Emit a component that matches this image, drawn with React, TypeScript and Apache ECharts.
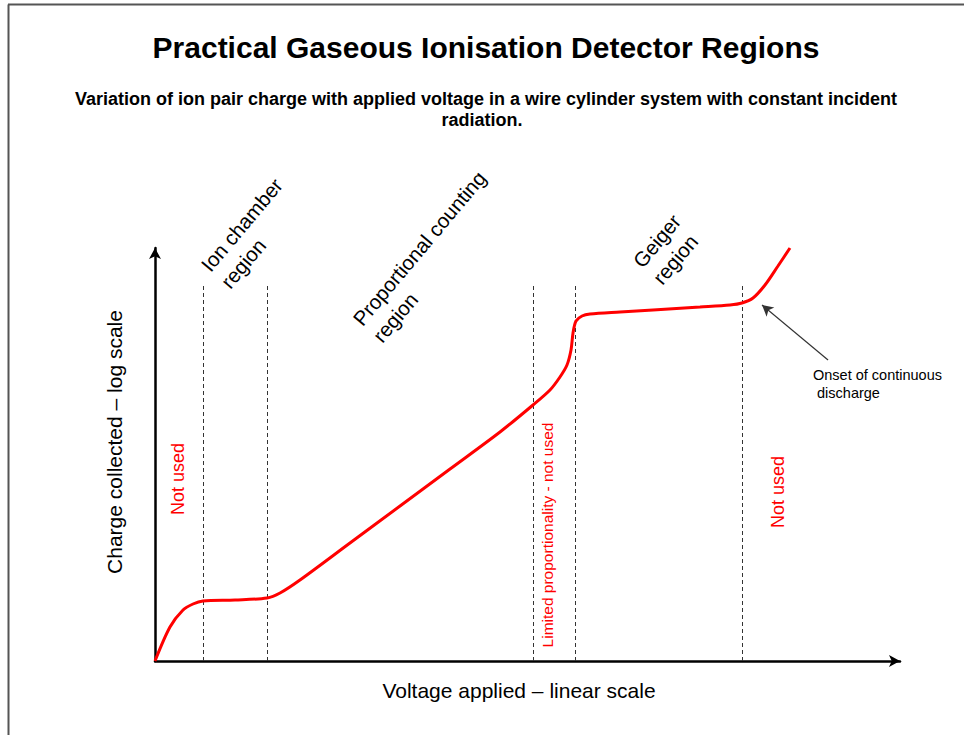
import React, { useEffect, useRef } from "react";
import * as echarts from "echarts";

// Voltage applied (linear, 0–100 arbitrary units) vs charge collected (log, 0–100 arbitrary units)
const voltage = [0, 2.01, 3.76, 5.1, 6.44, 10.74, 15.03, 16.78, 19.46, 26.17, 32.89, 39.6, 46.31, 50.74, 53.02, 54.36, 55.3, 55.84, 56.11, 56.51, 57.32, 58.39, 62.42, 66.85, 73.15, 77.18, 78.79, 80.27, 81.88, 83.62, 85.23];
const charge = [0, 8.23, 12.35, 13.8, 14.53, 14.77, 15.25, 16.46, 19.61, 28.57, 37.53, 46.49, 55.45, 61.99, 65.62, 68.77, 71.67, 75.3, 79.42, 82.32, 83.54, 84.02, 84.5, 84.99, 85.71, 86.2, 86.68, 87.89, 91.04, 95.64, 100];

// Region boundaries (voltage) and the height of the dashed boundary lines
const regionBoundaries = [6.44, 15.03, 50.74, 56.38, 78.79];
const boundaryTop = 91.3;

// Annotation arrow: from label to the onset of continuous discharge
const arrowFrom = [90.34, 72.88];
const arrowTo = [81.48, 86.2];

const titleText = "Practical Gaseous Ionisation Detector Regions";
const subtitleLines = [
  "Variation of ion pair charge with applied voltage in a wire cylinder system with constant incident",
  "radiation.",
];
const regionLabels = ["Ion chamber\nregion", "Proportional counting\nregion", "Geiger\nregion"];
const unusedLabels = ["Not used", "Limited proportionality - not used", "Not used"];
const xTitle = "Voltage applied – linear scale";
const yTitle = "Charge collected – log scale";
const onsetLabel = "Onset of continuous\n discharge";

export default function App() {
  const ref = useRef<HTMLDivElement>(null);

  useEffect(() => {
    if (!ref.current) return;
    const chart = echarts.init(ref.current, undefined, { renderer: "svg" });
    const font = "'Liberation Sans', Arial, sans-serif";
    const rot = (50 * Math.PI) / 180;

    const curve = voltage.map((v, i) => [v, charge[i]]);

    const markData: any[] = regionBoundaries.map((b) => [
      { coord: [b, 0], symbol: "none" },
      { coord: [b, boundaryTop], symbol: "none" },
    ]);
    markData.push([
      { coord: arrowFrom, symbol: "none", lineStyle: { type: "solid", color: "#333", width: 1.2 } },
      { coord: arrowTo, symbol: "arrow", symbolSize: [9, 11] },
    ]);

    const regionStyle = (text: string) => ({
      text,
      font: `20.5px ${font}`,
      fill: "#000",
      align: "left",
      verticalAlign: "top",
      lineHeight: 26,
    });

    chart.setOption({
      animation: false,
      backgroundColor: "#fff",
      grid: { left: 155, top: 248, width: 745, height: 413 },
      xAxis: {
        type: "value",
        min: 0,
        max: 100,
        axisLine: {
          show: true,
          symbol: ["none", "arrow"],
          symbolSize: [9, 11],
          lineStyle: { color: "#000", width: 2.5 },
        },
        axisTick: { show: false },
        axisLabel: { show: false },
        splitLine: { show: false },
      },
      yAxis: {
        type: "value",
        min: 0,
        max: 100,
        axisLine: {
          show: true,
          symbol: ["none", "arrow"],
          symbolSize: [9, 11],
          lineStyle: { color: "#000", width: 2.5 },
        },
        axisTick: { show: false },
        axisLabel: { show: false },
        splitLine: { show: false },
      },
      series: [
        {
          type: "line",
          data: curve,
          smooth: 0.3,
          showSymbol: false,
          symbol: "none",
          lineStyle: { color: "#ff0000", width: 3 },
          silent: true,
          z: 5,
          markLine: {
            silent: true,
            symbol: "none",
            label: { show: false },
            emphasis: { disabled: true },
            lineStyle: { type: [4, 3], color: "#333", width: 1 },
            data: markData,
          },
        },
      ],
      graphic: [
        { type: "line", shape: { x1: 8.5, y1: 4.5, x2: 8.5, y2: 735 }, style: { stroke: "#555", lineWidth: 2 } },
        { type: "line", shape: { x1: 8, y1: 4.5, x2: 964, y2: 4.5 }, style: { stroke: "#555", lineWidth: 2 } },
        {
          type: "text", x: 486, y: 47,
          style: { text: titleText, font: `bold 30px ${font}`, fill: "#000", align: "center", verticalAlign: "middle" },
        },
        {
          type: "text", x: 486, y: 99,
          style: { text: subtitleLines[0], font: `bold 18px ${font}`, fill: "#000", align: "center", verticalAlign: "middle" },
        },
        {
          type: "text", x: 482, y: 120,
          style: { text: subtitleLines[1], font: `bold 18px ${font}`, fill: "#000", align: "center", verticalAlign: "middle" },
        },
        { type: "text", x: 195, y: 260, rotation: rot, style: regionStyle(regionLabels[0]) },
        { type: "text", x: 347, y: 314, rotation: rot, style: regionStyle(regionLabels[1]) },
        { type: "text", x: 627, y: 256, rotation: rot, style: regionStyle(regionLabels[2]) },
        {
          type: "text", x: 178, y: 479, rotation: Math.PI / 2,
          style: { text: unusedLabels[0], font: `18px ${font}`, fill: "#ff0000", align: "center", verticalAlign: "middle" },
        },
        {
          type: "text", x: 547, y: 535, rotation: Math.PI / 2,
          style: { text: unusedLabels[1], font: `15.5px ${font}`, fill: "#ff0000", align: "center", verticalAlign: "middle" },
        },
        {
          type: "text", x: 778, y: 492, rotation: Math.PI / 2,
          style: { text: unusedLabels[2], font: `18px ${font}`, fill: "#ff0000", align: "center", verticalAlign: "middle" },
        },
        {
          type: "text", x: 114, y: 442, rotation: Math.PI / 2,
          style: { text: yTitle, font: `21px ${font}`, fill: "#000", align: "center", verticalAlign: "middle" },
        },
        {
          type: "text", x: 519, y: 690,
          style: { text: xTitle, font: `21px ${font}`, fill: "#000", align: "center", verticalAlign: "middle" },
        },
        {
          type: "text", x: 813, y: 384,
          style: { text: onsetLabel, font: `14.5px ${font}`, fill: "#000", align: "left", verticalAlign: "middle", lineHeight: 18 },
        },
      ],
    });

    return () => chart.dispose();
  }, []);

  return (
    <div
      ref={ref}
      style={{ position: "absolute", left: 0, top: 0, width: 964, height: 735, background: "#fff" }}
    />
  );
}
